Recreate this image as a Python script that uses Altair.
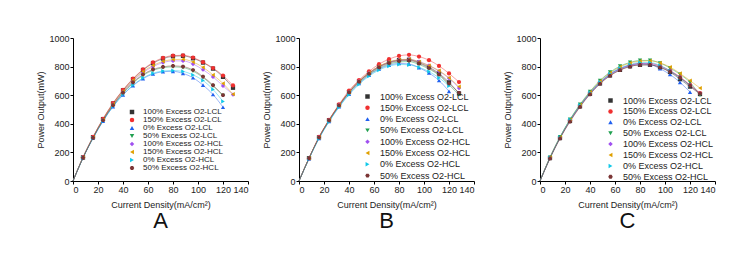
import altair as alt
import pandas as pd

FONT = "Liberation Sans"

X = [0, 8, 16, 24, 32, 40, 48, 56, 64, 72, 80, 88, 96, 104, 112, 120, 128]

SERIES = [
    "100% Excess O2-LCL",
    "150% Excess O2-LCL",
    "0% Excess O2-LCL",
    "50% Excess O2-LCL",
    "100% Excess O2-HCL",
    "150% Excess O2-HCL",
    "0% Excess O2-HCL",
    "50% Excess O2-HCL",
]
COLORS = ["#333333", "#f03030", "#2060f0", "#20a050", "#a050f0", "#e0a000", "#10c8e8", "#7b3535"]
HEX = "M-1,0L-0.5,-0.866L0.5,-0.866L1,0L0.5,0.866L-0.5,0.866Z"
SHAPES = ["square", "circle", "triangle-up", "triangle-down", "diamond",
          "triangle-left", "triangle-right", HEX]

# Panel A
A_100_LCL = [0, 165, 307, 433, 542, 634, 712, 776, 824, 856, 872, 875, 858, 828, 786, 728, 652]
A_150_LCL = [0, 166, 308, 435, 545, 637, 716, 780, 829, 861, 877, 879, 863, 831, 790, 737, 668]
A_0_LCL = [0, 161, 299, 418, 520, 602, 667, 716, 748, 764, 767, 752, 722, 670, 605, 516]
A_50_LCL = [0, 162, 301, 423, 527, 614, 685, 739, 774, 792, 798, 793, 768, 724, 664, 598]
A_100_HCL = [0, 163, 304, 428, 535, 625, 700, 758, 800, 828, 840, 840, 818, 778, 728, 665, 604]
A_150_HCL = [0, 164, 305, 430, 538, 628, 705, 765, 808, 836, 849, 851, 832, 795, 742, 682, 607]
A_0_HCL = [0, 161, 300, 420, 522, 605, 671, 721, 753, 769, 772, 766, 742, 703, 640, 556]
A_50_HCL = [0, 162, 302, 425, 530, 618, 690, 745, 780, 798, 805, 800, 776, 730, 670, 600]

# Panel B
B_100_LCL = [0, 160, 305, 425, 530, 622, 697, 755, 800, 830, 845, 848, 828, 797, 752, 690, 612]
B_150_LCL = [0, 158, 308, 428, 535, 632, 706, 766, 817, 852, 875, 882, 870, 845, 805, 752, 692]
B_0_LCL = [0, 156, 298, 416, 520, 608, 682, 740, 783, 810, 822, 818, 792, 755, 703, 627]
B_50_LCL = [0, 158, 302, 420, 525, 615, 688, 745, 788, 818, 832, 835, 815, 783, 740, 672, 603]
B_100_HCL = [0, 160, 305, 425, 530, 622, 697, 755, 800, 830, 847, 850, 835, 808, 768, 718, 650]
B_150_HCL = [0, 160, 305, 426, 531, 623, 698, 757, 803, 833, 848, 851, 833, 806, 772, 722, 660]
B_0_HCL = [0, 155, 297, 414, 516, 603, 676, 733, 776, 803, 815, 812, 795, 765, 722, 665]
B_50_HCL = [0, 160, 304, 424, 528, 620, 694, 750, 795, 825, 840, 843, 823, 790, 745, 682, 617]

# Panel C
C_100_LCL = [0, 160, 300, 420, 522, 610, 682, 738, 777, 802, 812, 812, 795, 762, 712, 660, 608]
C_150_LCL = [0, 163, 303, 424, 527, 616, 690, 746, 786, 810, 822, 822, 805, 772, 728, 672, 615]
C_0_LCL = [0, 163, 305, 426, 528, 615, 688, 745, 785, 808, 820, 815, 785, 745, 690, 622]
C_50_LCL = [0, 166, 308, 431, 536, 626, 703, 761, 803, 829, 843, 843, 825, 790, 746, 690, 600]
C_100_HCL = [0, 162, 302, 422, 525, 614, 688, 744, 784, 808, 820, 820, 802, 770, 725, 670, 612]
C_150_HCL = [0, 165, 306, 428, 532, 622, 698, 756, 798, 825, 838, 840, 826, 797, 752, 702, 650]
C_0_HCL = [0, 163, 305, 428, 530, 618, 692, 750, 790, 815, 828, 828, 808, 770, 722, 667]
C_50_HCL = [0, 158, 298, 415, 518, 606, 680, 736, 775, 800, 812, 812, 795, 765, 722, 668, 612]

X_TICKS = [0, 20, 40, 60, 80, 100, 120, 140]
Y_TICKS = [0, 200, 400, 600, 800, 1000]
X_TITLE = "Current Density(mA/cm²)"
Y_TITLE = "Power Output(mW)"


def make_df(arrays):
    rows = []
    for name, vals in zip(SERIES, arrays):
        for x, y in zip(X, vals):
            rows.append({"series": name, "x": x, "y": y})
    return pd.DataFrame(rows)


def panel(arrays, letter, w, h, lx, ly, lab_off, fsize, rowpad):
    df = make_df(arrays)
    base = alt.Chart(df)
    xenc = alt.X("x:Q", scale=alt.Scale(domain=[0, 140], nice=False),
                 axis=alt.Axis(values=X_TICKS, title=X_TITLE, format="d"))
    yenc = alt.Y("y:Q", scale=alt.Scale(domain=[0, 1000], nice=False),
                 axis=alt.Axis(values=Y_TICKS, title=Y_TITLE, format="d"))
    leg = alt.Legend(orient="none", legendX=lx, legendY=ly, title=None,
                     labelFont=FONT, labelFontSize=fsize, labelColor="#222",
                     symbolSize=20, symbolStrokeWidth=0, rowPadding=rowpad, padding=0,
                     labelOffset=lab_off, symbolOpacity=1)
    cscale = alt.Scale(domain=SERIES, range=COLORS)
    lines = base.mark_line(strokeWidth=1, opacity=0.45, interpolate="monotone").encode(
        x=xenc, y=yenc,
        color=alt.Color("series:N", scale=cscale, legend=leg),
    )
    pts = base.transform_filter("datum.x > 0").mark_point(filled=True, size=18, opacity=1).encode(
        x=xenc, y=yenc,
        color=alt.Color("series:N", scale=cscale, legend=leg),
        shape=alt.Shape("series:N", scale=alt.Scale(domain=SERIES, range=SHAPES), legend=leg),
    )
    return alt.layer(lines, pts).properties(
        width=w, height=h,
        title=alt.TitleParams(letter, orient="bottom", fontSize=22, font=FONT,
                              fontWeight="normal", anchor="middle", frame="group",
                              offset=2, color="#111"),
    )


pA = panel([A_100_LCL, A_150_LCL, A_0_LCL, A_50_LCL, A_100_HCL, A_150_HCL, A_0_HCL, A_50_HCL],
           "A", 175, 143, 55, 70, 7, 8, -1.4)
pB = panel([B_100_LCL, B_150_LCL, B_0_LCL, B_50_LCL, B_100_HCL, B_150_HCL, B_0_HCL, B_50_HCL],
           "B", 175, 143, 64, 54, 8, 9, 1.3)
pC = panel([C_100_LCL, C_150_LCL, C_0_LCL, C_50_LCL, C_100_HCL, C_150_HCL, C_0_HCL, C_50_HCL],
           "C", 175, 143, 66, 58, 8, 9, 0.9)

inner = alt.hconcat(pB, pC, spacing=28).resolve_scale(
    color="independent", shape="independent").resolve_legend(
    color="independent", shape="independent")
chart = alt.hconcat(pA, inner, spacing=13).resolve_scale(
    color="independent", shape="independent").resolve_legend(
    color="independent", shape="independent")

chart = chart.properties(
    padding={"left": 28, "top": 26, "right": 5, "bottom": 5}
).configure_view(stroke=None).configure_axis(
    grid=False, domainColor="#000", tickColor="#000", tickSize=3,
    labelFont=FONT, labelFontSize=9, labelColor="#222", labelPadding=1,
    titleFont=FONT, titleFontSize=9, titleFontWeight="normal", titleColor="#222",
    titlePadding=3,
).configure_axisX(titlePadding=6)

chart.save("out.html", embed_options={"renderer": "svg", "actions": False})
